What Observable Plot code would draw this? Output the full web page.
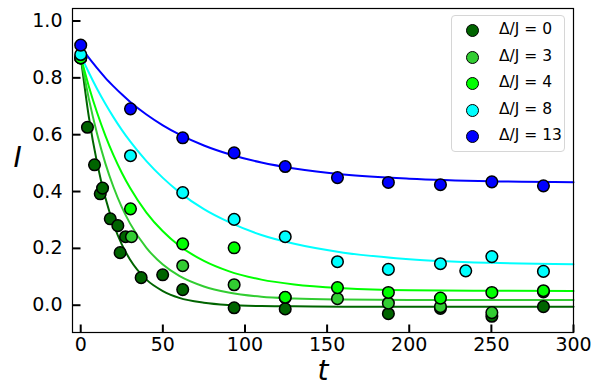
<!DOCTYPE html>
<html><head><meta charset="utf-8">
<script src="https://cdn.jsdelivr.net/npm/d3@7"></script>
<script src="https://cdn.jsdelivr.net/npm/@observablehq/plot@0.6"></script>
<style>
body{margin:0;background:#fff;}
#wrap{position:relative;width:599px;height:391px;font-family:"DejaVu Sans",sans-serif;}
#legend{position:absolute;left:451px;top:15px;width:112px;height:135px;border:1px solid #d6d6d6;border-radius:4px;background:rgba(255,255,255,0.8);}
.row{position:absolute;left:0;height:26px;width:112px;}
.mk{position:absolute;left:14px;top:6px;width:11px;height:11px;border-radius:50%;border:1.5px solid #000;}
.lb{position:absolute;left:47px;top:1px;font-size:15.5px;line-height:20px;color:#000;white-space:nowrap;}
</style></head><body><div id="wrap"></div>
<script>
// series labels & colours
const seriesLabels = ["Δ/J = 0", "Δ/J = 3", "Δ/J = 4", "Δ/J = 8", "Δ/J = 13"];
const seriesColors = ["darkgreen", "limegreen", "lime", "cyan", "blue"];

// measured points
const t0 = [0, 4.1, 8.4, 11.9, 13.3, 18.0, 22.6, 24.0, 27.3, 36.8, 49.9, 62.1, 93.4, 124.5, 187.3, 219.0, 250.3, 281.7];
const I0 = [0.870, 0.626, 0.494, 0.392, 0.412, 0.304, 0.280, 0.185, 0.241, 0.097, 0.107, 0.055, -0.009, -0.013, -0.030, -0.011, -0.039, -0.005];
const t3 = [0, 30.9, 62.1, 93.4, 124.5, 156.3, 187.3, 219.0, 250.3, 281.7];
const I3 = [0.870, 0.241, 0.139, 0.072, 0.027, 0.023, 0.007, -0.005, -0.026, 0.047];
const t4 = [0, 30.3, 62.1, 93.4, 124.5, 156.3, 187.3, 219.0, 250.3, 281.7];
const I4 = [0.870, 0.339, 0.216, 0.202, 0.028, 0.062, 0.045, 0.025, 0.045, 0.051];
const t8 = [0, 30.3, 62.1, 93.4, 124.5, 156.3, 187.3, 219.0, 234.4, 250.3, 281.7];
const I8 = [0.882, 0.526, 0.396, 0.302, 0.241, 0.153, 0.126, 0.146, 0.121, 0.171, 0.119];
const t13 = [0, 30.3, 62.1, 93.4, 124.5, 156.3, 187.3, 219.0, 250.3, 281.7];
const I13 = [0.915, 0.691, 0.589, 0.536, 0.488, 0.449, 0.432, 0.424, 0.434, 0.420];

// fitted curves
const fitT = [0, 5, 10, 15, 20, 25, 30, 40, 50, 60, 75, 90, 110, 130, 160, 200, 250, 300];
const fit0 = [0.875, 0.661, 0.500, 0.378, 0.285, 0.214, 0.161, 0.090, 0.050, 0.026, 0.009, 0.001, -0.003, -0.004, -0.005, -0.005, -0.005, -0.005];
const fit3 = [0.875, 0.725, 0.602, 0.499, 0.415, 0.345, 0.288, 0.202, 0.143, 0.103, 0.066, 0.045, 0.030, 0.024, 0.020, 0.018, 0.018, 0.018];
const fit4 = [0.875, 0.769, 0.677, 0.597, 0.527, 0.466, 0.413, 0.326, 0.260, 0.209, 0.156, 0.120, 0.090, 0.073, 0.060, 0.053, 0.051, 0.050];
const fit8 = [0.880, 0.818, 0.761, 0.709, 0.661, 0.617, 0.577, 0.507, 0.448, 0.398, 0.338, 0.293, 0.247, 0.216, 0.185, 0.162, 0.149, 0.144];
const fit13 = [0.910, 0.870, 0.834, 0.800, 0.770, 0.742, 0.716, 0.671, 0.633, 0.601, 0.562, 0.532, 0.502, 0.481, 0.460, 0.445, 0.436, 0.433];

const xTicks = [0, 50, 100, 150, 200, 250, 300];
const yTicks = [0.0, 0.2, 0.4, 0.6, 0.8, 1.0];

const ptT = [t0, t3, t4, t8, t13], ptI = [I0, I3, I4, I8, I13];
const fitI = [fit0, fit3, fit4, fit8, fit13];
const points = [], fits = [];
seriesLabels.forEach((s, k) => {
  ptT[k].forEach((t, i) => points.push({series: s, t, I: ptI[k][i]}));
  fitT.forEach((t, i) => fits.push({series: s, t, I: fitI[k][i]}));
});

// inward tick shapes
const tickUp = {draw(ctx) { ctx.moveTo(0, 0); ctx.lineTo(0, -8); }};
const tickRight = {draw(ctx) { ctx.moveTo(0, 0); ctx.lineTo(8, 0); }};

const chart = Plot.plot({
  width: 599, height: 391,
  marginLeft: 72, marginRight: 26, marginTop: 8, marginBottom: 59,
  x: {domain: [-5, 300]},
  y: {domain: [-0.096, 1.044]},
  color: {domain: seriesLabels, range: seriesColors},
  style: {fontFamily: "DejaVu Sans", fontSize: "19px", color: "black", background: "white", overflow: "visible"},
  marks: [
    Plot.axisX({ticks: xTicks, tickSize: 0, tickPadding: 5, label: null, fontSize: 19}),
    Plot.axisY({ticks: yTicks, tickSize: 0, tickPadding: 10, tickFormat: d3.format(".1f"), label: null, fontSize: 19}),
    Plot.dot(xTicks, {x: d => d, frameAnchor: "bottom", symbol: tickUp, stroke: "black", strokeWidth: 2, r: 4}),
    Plot.dot(yTicks, {y: d => d, frameAnchor: "left", symbol: tickRight, stroke: "black", strokeWidth: 2, r: 4}),
    Plot.line(fits, {x: "t", y: "I", z: "series", stroke: "series", strokeWidth: 2, curve: "monotone-x"}),
    Plot.dot(points, {x: "t", y: "I", fill: "series", stroke: "black", strokeWidth: 1.5, r: 5.8}),
    Plot.frame({stroke: "black", strokeWidth: 1.2}),
    Plot.text(["I"], {frameAnchor: "left", dx: -55, dy: -12, textAnchor: "middle", lineAnchor: "middle", fontSize: 28, fontStyle: "italic", text: d => d}),
    Plot.text(["t"], {frameAnchor: "bottom", dy: 39, textAnchor: "middle", lineAnchor: "middle", fontSize: 28, fontStyle: "italic", text: d => d})
  ]
});
const wrap = document.getElementById("wrap");
wrap.appendChild(chart);

const leg = document.createElement("div");
leg.id = "legend";
seriesLabels.forEach((s, k) => {
  const row = document.createElement("div");
  row.className = "row";
  row.style.top = (2 + k * 26.5) + "px";
  const mk = document.createElement("div");
  mk.className = "mk";
  mk.style.background = seriesColors[k];
  const lb = document.createElement("div");
  lb.className = "lb";
  lb.textContent = s;
  row.appendChild(mk); row.appendChild(lb);
  leg.appendChild(row);
});
wrap.appendChild(leg);
</script></body></html>
